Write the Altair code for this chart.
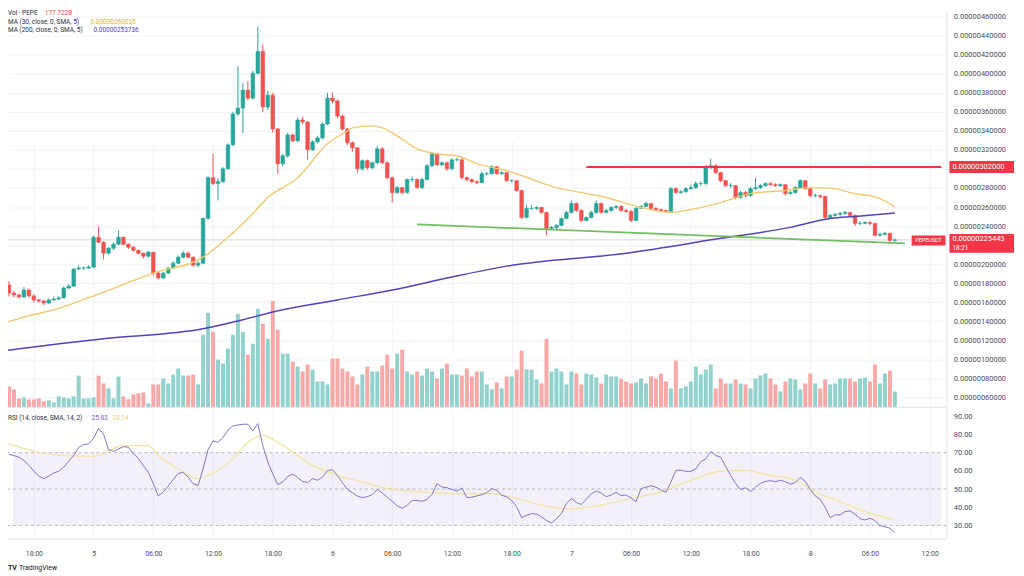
import json
import altair as alt
import pandas as pd

# ---------------- values ----------------
# 30-minute PEPE/USDT candles. Time in hours from 5 May 00:00 (first candle 4 May 15:30).
first_candle_hour = -8.5
candle_step_hour = 0.5
first_open = 1.780            # prices in units of 1e-6 USDT

close = [
    1.697, 1.676, 1.655, 1.728, 1.666, 1.624, 1.613, 1.592, 1.624, 1.634,
    1.645, 1.749, 1.770, 1.948, 1.958, 1.958, 1.969, 2.282, 2.230, 2.115,
    2.167, 2.209, 2.282, 2.209, 2.177, 2.146, 2.115, 2.083, 2.125, 1.906,
    1.854, 1.906, 1.958, 2.010, 2.073, 2.115, 2.073, 1.989, 2.010, 2.480,
    2.908, 2.846, 2.867, 3.002, 3.253, 3.577, 3.640, 3.828, 3.744, 4.005,
    4.235, 3.650, 3.775, 3.420, 3.055, 3.138, 3.358, 3.295, 3.514, 3.493,
    3.201, 3.284, 3.326, 3.472, 3.744, 3.713, 3.556, 3.420, 3.274, 3.222,
    3.002, 3.086, 3.013, 3.065, 3.211, 3.065, 2.908, 2.752, 2.804, 2.752,
    2.888, 2.888, 2.804, 2.888, 3.034, 3.159, 3.044, 3.065, 3.002, 3.096,
    3.096, 2.908, 2.888, 2.867, 2.856, 2.950, 2.950, 3.023, 2.950, 2.961,
    2.877, 2.877, 2.773, 2.491, 2.585, 2.585, 2.595, 2.543, 2.376, 2.386,
    2.407, 2.480, 2.543, 2.637, 2.564, 2.459, 2.491, 2.543, 2.637, 2.543,
    2.564, 2.595, 2.606, 2.564, 2.553, 2.459, 2.585, 2.606, 2.637, 2.585,
    2.574, 2.564, 2.553, 2.793, 2.752, 2.762, 2.793, 2.804, 2.846, 2.846,
    3.013, 3.034, 2.961, 2.877, 2.825, 2.825, 2.700, 2.752, 2.720, 2.793,
    2.804, 2.825, 2.846, 2.835, 2.825, 2.835, 2.741, 2.752, 2.804, 2.877,
    2.793, 2.720, 2.720, 2.710, 2.491, 2.512, 2.522, 2.533, 2.543, 2.512,
    2.428, 2.428, 2.438, 2.428, 2.303, 2.313, 2.324, 2.250, 2.254,
]
high = [
    1.822, 1.72, 1.69, 1.76, 1.745, 1.68, 1.635, 1.62, 1.64, 1.66,
    1.665, 1.765, 1.79, 1.96, 1.989, 1.975, 1.99, 2.30, 2.397, 2.24,
    2.18, 2.23, 2.355, 2.29, 2.22, 2.19, 2.15, 2.12, 2.14, 2.13,
    1.92, 1.92, 1.97, 2.03, 2.09, 2.14, 2.13, 2.08, 2.03, 2.49,
    2.93, 3.159, 2.90, 3.02, 3.27, 3.60, 4.078, 3.90, 3.921, 4.03,
    4.496, 4.308, 3.82, 3.80, 3.43, 3.16, 3.38, 3.37, 3.54, 3.55,
    3.50, 3.30, 3.35, 3.49, 3.80, 3.80, 3.73, 3.57, 3.43, 3.29,
    3.23, 3.10, 3.10, 3.08, 3.24, 3.23, 3.08, 2.92, 2.82, 2.81,
    2.90, 2.92, 2.90, 2.91, 3.05, 3.18, 3.17, 3.08, 3.08, 3.11,
    3.12, 3.11, 2.92, 2.90, 2.88, 2.97, 2.97, 3.04, 3.03, 2.98,
    2.97, 2.89, 2.88, 2.78, 2.62, 2.62, 2.61, 2.60, 2.55, 2.40,
    2.42, 2.49, 2.56, 2.67, 2.65, 2.58, 2.50, 2.56, 2.67, 2.65,
    2.58, 2.61, 2.62, 2.62, 2.58, 2.57, 2.60, 2.62, 2.66, 2.64,
    2.60, 2.58, 2.57, 2.81, 2.81, 2.78, 2.81, 2.83, 2.87, 2.87,
    3.04, 3.107, 3.05, 2.97, 2.88, 2.85, 2.83, 2.77, 2.77, 2.81,
    2.908, 2.84, 2.86, 2.86, 2.85, 2.85, 2.84, 2.77, 2.82, 2.89,
    2.88, 2.80, 2.74, 2.73, 2.72, 2.53, 2.54, 2.55, 2.56, 2.55,
    2.52, 2.45, 2.45, 2.45, 2.43, 2.33, 2.34, 2.33, 2.27,
]
low = [
    1.658, 1.65, 1.635, 1.645, 1.65, 1.60, 1.595, 1.57, 1.58, 1.615,
    1.625, 1.64, 1.74, 1.76, 1.94, 1.94, 1.95, 1.96, 2.22, 2.05,
    2.10, 2.15, 2.20, 2.20, 2.16, 2.13, 2.10, 2.06, 2.07, 1.88,
    1.84, 1.85, 1.90, 1.95, 2.00, 2.06, 2.06, 1.97, 1.97, 2.00,
    2.47, 2.83, 2.668, 2.85, 2.99, 3.24, 3.56, 3.378, 3.72, 3.73,
    3.99, 3.60, 3.62, 3.38, 2.95, 3.03, 3.12, 3.28, 3.28, 3.47,
    3.10, 3.19, 3.27, 3.31, 3.46, 3.69, 3.53, 3.40, 3.25, 3.18,
    2.96, 2.98, 2.99, 3.00, 3.05, 3.05, 2.89, 2.647, 2.74, 2.73,
    2.74, 2.86, 2.79, 2.79, 2.88, 3.02, 3.03, 3.03, 2.98, 2.99,
    3.08, 2.89, 2.87, 2.85, 2.84, 2.85, 2.93, 2.94, 2.94, 2.94,
    2.86, 2.86, 2.76, 2.47, 2.48, 2.57, 2.57, 2.53, 2.303, 2.36,
    2.37, 2.40, 2.47, 2.53, 2.55, 2.44, 2.45, 2.48, 2.53, 2.53,
    2.53, 2.55, 2.58, 2.55, 2.54, 2.44, 2.45, 2.58, 2.60, 2.57,
    2.56, 2.55, 2.54, 2.54, 2.74, 2.74, 2.75, 2.78, 2.79, 2.82,
    2.83, 3.00, 2.95, 2.86, 2.81, 2.80, 2.68, 2.69, 2.70, 2.71,
    2.78, 2.79, 2.81, 2.82, 2.81, 2.81, 2.72, 2.73, 2.74, 2.79,
    2.78, 2.70, 2.70, 2.69, 2.47, 2.48, 2.50, 2.51, 2.52, 2.50,
    2.40, 2.41, 2.42, 2.41, 2.29, 2.29, 2.30, 2.23, 2.23,
]
volume = [   # relative volume
    21, 18, 9, 10, 8, 8, 9, 6, 7, 5, 11, 10, 9, 11,
    32, 9, 9, 10, 32, 24, 19, 9, 31, 11, 8, 13, 14, 15, 4, 23, 23, 29, 24, 33, 39, 32, 32, 33, 23,
    73, 95, 76, 48, 44, 59, 73, 94, 76, 53,
    64, 99, 84, 69, 107, 78, 54, 54, 46, 41,
    36, 43, 38, 26, 26, 23, 49, 49, 39, 36,
    31, 23, 33, 41, 36, 36, 42, 53, 39, 54,
    58, 36, 33, 36, 32, 39, 36, 29, 39, 44,
    33, 33, 32, 39, 31, 36, 36, 23, 18, 25,
    19, 31, 31, 38, 57, 38, 38, 28, 24, 69,
    36, 39, 36, 23, 36, 34, 23, 34, 33, 30,
    24, 33, 31, 31, 29, 26, 24, 25, 29, 24,
    31, 29, 34, 26, 19, 47, 19, 21, 26, 41,
    33, 38, 43, 19, 29, 24, 24, 28, 24, 23,
    19, 29, 32, 34, 29, 23, 16, 26, 29, 28,
    18, 24, 34, 24, 19, 28, 23, 24, 29, 29,
    29, 26, 29, 30, 26, 43, 24, 34, 37, 16,
]
rsi = [
    69.0, 68.4, 67.5, 65.7, 63.0, 59.8, 57.1, 55.7, 57.1, 58.8,
    59.8, 62.0, 65.3, 68.4, 72.9, 74.4, 74.8, 77.9, 83.3, 80.2,
    71.6, 70.7, 72.0, 73.3, 72.9, 69.3, 66.9, 62.8, 59.1, 52.9,
    46.2, 48.4, 51.6, 55.3, 58.6, 59.1, 56.6, 52.9, 52.0, 61.1,
    71.6, 76.5, 75.6, 78.4, 82.4, 84.7, 85.2, 85.6, 85.6, 82.0,
    86.0, 73.9, 64.8, 58.4, 52.4, 53.9, 56.9, 58.2, 56.4, 54.2,
    53.5, 55.7, 54.8, 56.6, 60.2, 60.6, 57.5, 53.5, 49.7, 48.0,
    46.1, 45.3, 45.8, 46.9, 49.8, 47.8, 45.5, 43.3, 40.8, 39.4,
    41.0, 43.7, 43.7, 43.3, 44.2, 47.1, 52.9, 51.1, 50.7, 49.8,
    48.9, 50.6, 45.3, 45.5, 46.2, 46.9, 48.0, 50.2, 49.3, 46.6,
    45.7, 43.7, 40.3, 34.3, 35.6, 36.5, 36.2, 34.7, 32.7, 31.4,
    33.6, 36.5, 42.1, 44.8, 42.6, 41.5, 44.4, 47.3, 48.9, 47.8,
    45.8, 46.7, 48.2, 46.4, 46.7, 45.1, 43.0, 50.2, 51.0, 51.8,
    51.0, 49.5, 48.2, 53.9, 60.2, 60.4, 59.7, 59.7, 61.1, 65.0,
    66.6, 70.6, 68.4, 67.5, 62.4, 57.5, 53.1, 49.7, 50.7, 48.7,
    51.0, 53.1, 54.2, 54.6, 54.0, 54.8, 54.0, 52.7, 53.5, 56.4,
    54.2, 49.8, 46.2, 44.4, 39.9, 34.3, 35.8, 35.8, 37.6, 38.0,
    36.2, 33.7, 33.0, 33.9, 32.7, 29.9, 29.2, 28.5, 26.0,
]

ma30_idx = [-1, 4, 9, 19, 29, 39, 44, 49, 52, 58, 64, 68, 69, 73, 75, 78, 82, 86, 90, 94,
            100, 110, 120, 127, 133, 136, 143, 149, 156, 161, 166, 169, 175, 178]
ma30_val = [1.384, 1.457, 1.519, 1.707, 1.906, 2.073, 2.282, 2.533, 2.700, 2.908,
            3.264, 3.399, 3.431, 3.452, 3.431, 3.347, 3.211, 3.159, 3.138, 3.055,
            2.982, 2.804, 2.700, 2.595, 2.543, 2.564, 2.647, 2.741, 2.773, 2.804,
            2.793, 2.752, 2.689, 2.600]
ma200_idx = [-1, 19, 39, 47, 53, 66, 77, 88, 100, 124, 143, 157, 165, 170, 178]
ma200_val = [1.091, 1.216, 1.321, 1.415, 1.498, 1.624, 1.728, 1.854, 1.979, 2.115,
             2.271, 2.386, 2.480, 2.501, 2.537]
rsi_ma_idx = [-1, 6, 11, 17, 23, 28, 30, 34, 38, 40, 45, 48, 51, 54, 58, 61, 66, 71, 76, 83,
              90, 97, 102, 107, 113, 119, 125, 131, 137, 143, 148, 153, 158, 162, 167, 172, 178]
rsi_ma_val = [75.7, 70.2, 68.4, 68.0, 73.9, 73.9, 68.4, 61.1, 55.7, 57.5,
              66.6, 75.7, 79.3, 75.7, 68.4, 63.0, 57.5, 53.9, 50.2, 48.4,
              47.5, 47.5, 44.8, 41.2, 39.0, 41.2, 44.8, 48.4, 54.8, 59.7,
              60.2, 57.5, 54.8, 48.4, 43.0, 37.6, 33.0]

resistance_price = 3.02
resistance_from_idx = 116
trend_idx = [82, 180]
trend_price = [2.417, 2.219]
last_price = 2.25443

tick_hours = [-6, 0, 6, 12, 18, 24, 30, 36, 42, 48, 54, 60, 66, 72, 78, 84]
tick_labels = ["18:00", "5", "06:00", "12:00", "18:00", "6", "06:00", "12:00",
               "18:00", "7", "06:00", "12:00", "18:00", "8", "06:00", "12:00"]
price_ticks = [0.6, 0.8, 1.0, 1.2, 1.4, 1.6, 1.8, 2.0, 2.2, 2.4, 2.6, 2.8, 3.0,
               3.2, 3.4, 3.6, 3.8, 4.0, 4.2, 4.4, 4.6]
price_ticks_under_tags = [2.2, 3.0]   # their labels are hidden behind the price tags
rsi_ticks = [30, 40, 50, 60, 70, 80, 90]
rsi_levels = [70, 50, 30]

legend_names = ["Vol · PEPE", "MA (30, close, 0, SMA, 5)", "MA (200, close, 0, SMA, 5)"]
legend_values = ["177.722B", "0.00000260035", "0.00000253736"]
rsi_legend_name = "RSI (14, close, SMA, 14, 2)"
rsi_legend_values = ["25.83", "33.14"]

# ---------------- layout / style ----------------
W, H = 944, 532
PRICE_BOTTOM = 400
x_domain = [-8.10, 85.18]
price_domain = [0.496, 4.673]
rsi_domain = [22.8, 94.9]
vol_domain = [0, 400]

FONT = "Roboto"
GRID = "#f0f3fa"
EDGE = "#e0e3eb"
LABEL = "#4a4d57"
UP, DOWN = "#26a69a", "#ef5350"
VUP, VDOWN = "#92d2cc", "#f7a9a7"
MA30_C, MA200_C = "#f1c96b", "#4f45b8"
RSI_C, RSI_MA_C = "#8674c4", "#f3e49a"


def hour_of(i):
    return first_candle_hour + candle_step_hour * i


n = len(close)
opens = [first_open] + close[:-1]
candles = pd.DataFrame({
    "t": [hour_of(i) for i in range(n)],
    "o": opens, "c": close, "h": high, "l": low,
    "v": volume, "r": rsi,
})
candles["top"] = candles[["o", "c"]].max(axis=1)
candles["bot"] = candles[["o", "c"]].min(axis=1)
is_up = candles["c"] >= candles["o"]
candles["col"] = [UP if u else DOWN for u in is_up]
candles["vcol"] = [VUP if u else VDOWN for u in is_up]

ma30 = pd.DataFrame({"t": [hour_of(i) for i in ma30_idx], "p": ma30_val})
ma200 = pd.DataFrame({"t": [hour_of(i) for i in ma200_idx], "p": ma200_val})
rsi_ma = pd.DataFrame({"t": [hour_of(i) for i in rsi_ma_idx], "r": rsi_ma_val})
trend = pd.DataFrame({"t": [hour_of(i) for i in trend_idx], "p": trend_price})
resist = pd.DataFrame({"t0": [hour_of(resistance_from_idx)], "t1": [x_domain[1]],
                       "p": [resistance_price]})
last_df = pd.DataFrame({"p": [last_price]})
resist_tag = pd.DataFrame({"p": [resistance_price],
                           "label": [format(resistance_price * 1e-6, ".11f")]})
last_tag = pd.DataFrame({"p": [last_price],
                         "label": [format(last_price * 1e-6, ".11f")],
                         "timer": ["18:21"], "sym": ["PEPEUSDT"]})
band = pd.DataFrame({"x0": [x_domain[0]], "x1": [x_domain[1]],
                     "hi": [rsi_levels[0]], "lo": [rsi_levels[-1]]})
levels = pd.DataFrame({"r": rsi_levels})
sep = pd.DataFrame({"r": [rsi_domain[1]]})

# ---------------- scales & axes ----------------
x_axis = alt.Axis(
    values=tick_hours,
    labelExpr=f"{json.dumps(tick_labels)}[indexof({json.dumps(tick_hours)}, datum.value)]",
    grid=True, gridColor=GRID, ticks=False, domain=True, domainColor=EDGE,
    labelFont=FONT, labelFontSize=7, labelColor=LABEL, labelPadding=11,
    labelOverlap=False, labelFlush=False, title=None)
x_scale = alt.Scale(domain=x_domain, nice=False, zero=False)


def X(f="t"):
    return alt.X(f"{f}:Q", scale=x_scale, axis=x_axis)


price_scale = alt.Scale(domain=price_domain, range=[PRICE_BOTTOM, 0], nice=False, zero=False)
price_axis = alt.Axis(
    orient="right", values=price_ticks,
    labelExpr=(f"indexof({json.dumps(price_ticks_under_tags)}, datum.value) >= 0 ? '' : "
               "format(datum.value * 1e-6, '.11f')"),
    grid=True, gridColor=GRID, ticks=False, domain=True, domainColor=EDGE,
    labelFont=FONT, labelFontSize=7.5, labelColor=LABEL, labelPadding=7, title=None)


def PY(f="p"):
    return alt.Y(f"{f}:Q", scale=price_scale, axis=price_axis)


rsi_scale = alt.Scale(domain=rsi_domain, range=[H, PRICE_BOTTOM], nice=False, zero=False)
rsi_axis = alt.Axis(
    orient="right", values=rsi_ticks, format=".2f",
    grid=False, ticks=False, domain=True, domainColor=EDGE,
    labelFont=FONT, labelFontSize=7.5, labelColor=LABEL, labelPadding=7, title=None)


def RY(f="r"):
    return alt.Y(f"{f}:Q", scale=rsi_scale, axis=rsi_axis)


vol_scale = alt.Scale(domain=vol_domain, range=[PRICE_BOTTOM, 0], nice=False)

# ---------------- volume ----------------
vol_layer = alt.Chart(candles).mark_bar(size=4).encode(
    x=X("t"), y=alt.Y("v:Q", scale=vol_scale, axis=None),
    color=alt.Color("vcol:N", scale=None))

# ---------------- price pane ----------------
last_line = alt.Chart(last_df).mark_rule(color="#c7c9cf", strokeWidth=0.8).encode(y=PY("p"))
wicks = alt.Chart(candles).mark_rule(strokeWidth=1).encode(
    x=X("t"), y=PY("l"), y2="h", color=alt.Color("col:N", scale=None))
bodies = alt.Chart(candles).mark_bar(size=3.6, strokeWidth=0.6).encode(
    x=X("t"), y=PY("bot"), y2="top",
    color=alt.Color("col:N", scale=None), stroke=alt.Stroke("col:N", scale=None))
ma200_line = alt.Chart(ma200).mark_line(color=MA200_C, strokeWidth=1.5,
                                        interpolate="monotone", clip=True).encode(x=X("t"), y=PY("p"))
ma30_line = alt.Chart(ma30).mark_line(color=MA30_C, strokeWidth=1.4,
                                      interpolate="monotone", clip=True).encode(x=X("t"), y=PY("p"))
resist_line = alt.Chart(resist).mark_rule(color="#f23645", strokeWidth=2).encode(
    x=X("t0"), x2="t1", y=PY("p"))
trend_line = alt.Chart(trend).mark_line(color="#72c160", strokeWidth=1.8).encode(
    x=X("t"), y=PY("p"))

resist_box = alt.Chart(resist_tag).mark_rect(color="#f23645", yOffset=-6, y2Offset=6).encode(
    x=alt.value(947), x2=alt.value(1012), y=PY("p"), y2="p")
resist_txt = alt.Chart(resist_tag).mark_text(align="left", color="white", font=FONT,
                                             fontSize=7.5).encode(
    x=alt.value(950), y=PY("p"), text="label:N")
last_box = alt.Chart(last_tag).mark_rect(color="#f23645", yOffset=-6, y2Offset=13).encode(
    x=alt.value(947), x2=alt.value(1012), y=PY("p"), y2="p")
last_txt = alt.Chart(last_tag).mark_text(align="left", color="white", font=FONT,
                                         fontSize=7.5, dy=-1).encode(
    x=alt.value(950), y=PY("p"), text="label:N")
last_timer = alt.Chart(last_tag).mark_text(align="left", color="white", font=FONT,
                                           fontSize=6.5, dy=8).encode(
    x=alt.value(950), y=PY("p"), text="timer:N")
sym_box = alt.Chart(last_tag).mark_rect(color="#f23645", yOffset=-4.5, y2Offset=5.5).encode(
    x=alt.value(909), x2=alt.value(943), y=PY("p"), y2="p")
sym_txt = alt.Chart(last_tag).mark_text(align="center", color="white", font=FONT,
                                        fontSize=5.5, dy=0.5).encode(
    x=alt.value(926), y=PY("p"), text="sym:N")

legend_layers = []
legend_y = [3.5, 12, 20.5]
legend_vx = [37, 83, 86]
legend_colors = ["#ef5350", "#d9b43a", "#4f45b8"]
for name, val, yy, vx, vc in zip(legend_names, legend_values, legend_y, legend_vx, legend_colors):
    legend_layers.append(alt.Chart(last_df).mark_text(
        align="left", color="#2a2e39", font=FONT, fontSize=6.5, text=name).encode(
        x=alt.value(0), y=alt.value(yy)))
    legend_layers.append(alt.Chart(last_df).mark_text(
        align="left", color=vc, font=FONT, fontSize=6.5, text=val).encode(
        x=alt.value(vx), y=alt.value(yy)))

price_group = alt.layer(last_line, wicks, bodies, ma200_line, ma30_line, resist_line,
                        trend_line, resist_box, resist_txt, last_box, last_txt,
                        last_timer, sym_box, sym_txt, *legend_layers)

# ---------------- RSI pane ----------------
band_rect = alt.Chart(band).mark_rect(color="#7e57c2", opacity=0.09).encode(
    x=X("x0"), x2="x1", y=RY("hi"), y2="lo")
level_rules = alt.Chart(levels).mark_rule(color="#a3a6af", strokeWidth=0.8,
                                          strokeDash=[3, 3]).encode(y=RY("r"))
sep_rule = alt.Chart(sep).mark_rule(color=EDGE, strokeWidth=1).encode(y=RY("r"))
rsi_ma_line = alt.Chart(rsi_ma).mark_line(color=RSI_MA_C, strokeWidth=1.2,
                                          interpolate="monotone", clip=True).encode(x=X("t"), y=RY("r"))
rsi_line = alt.Chart(candles).mark_line(color=RSI_C, strokeWidth=1).encode(x=X("t"), y=RY("r"))
rsi_leg = [
    alt.Chart(sep).mark_text(align="left", color="#2a2e39", font=FONT, fontSize=6.5,
                             text=rsi_legend_name).encode(x=alt.value(0), y=alt.value(411)),
    alt.Chart(sep).mark_text(align="left", color="#7e57c2", font=FONT, fontSize=6.5,
                             text=rsi_legend_values[0]).encode(x=alt.value(84), y=alt.value(411)),
    alt.Chart(sep).mark_text(align="left", color="#e8cf5a", font=FONT, fontSize=6.5,
                             text=rsi_legend_values[1]).encode(x=alt.value(105), y=alt.value(411)),
    alt.Chart(sep).mark_text(align="left", color="#131722", font=FONT, fontSize=7,
                             fontWeight="bold", text="TV").encode(x=alt.value(0), y=alt.value(562)),
    alt.Chart(sep).mark_text(align="left", color="#131722", font=FONT, fontSize=7,
                             text="TradingView").encode(x=alt.value(11), y=alt.value(562)),
]
rsi_group = alt.layer(band_rect, level_rules, sep_rule, rsi_ma_line, rsi_line, *rsi_leg)

chart = alt.layer(vol_layer, price_group, rsi_group).resolve_scale(
    y="independent"
).properties(
    width=W, height=H,
    autosize=alt.AutoSizeParams(type="none"),
    padding={"left": 0, "top": 0, "right": 70, "bottom": 36},
    background="white",
).configure_view(stroke=None)

chart.save("out.html", embed_options={"renderer": "svg", "actions": False})
